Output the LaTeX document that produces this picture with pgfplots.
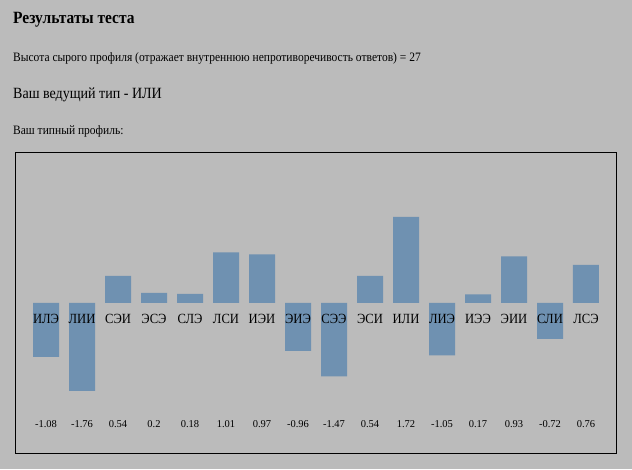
\documentclass[border=0pt]{standalone}
\usepackage{pgfplots}
\pgfplotsset{compat=1.18}
\usetikzlibrary{backgrounds}
\usepackage{fontspec}
\setmainfont{Liberation Serif}
\newfontfamily\cond[FakeStretch=0.9]{Liberation Serif}
\definecolor{bg}{HTML}{BBBBBB}
\definecolor{barc}{HTML}{6F91B1}
\begin{document}
\begin{tikzpicture}
\begin{axis}[
  name=ax,
  scale only axis, width=601pt, height=300pt,
  xmin=-0.842, xmax=15.853, ymin=-3, ymax=3,
  axis on top,
  axis line style={black, line width=1pt},
  ytick=\empty,
  xtick={0,...,15},
  xticklabels={-1.08,-1.76,0.54,0.2,0.18,1.01,0.97,-0.96,-1.47,0.54,1.72,-1.05,0.17,0.93,-0.72,0.76},
  xticklabel style={anchor=base, yshift=25.3pt, font=\fontsize{10.5}{12}\selectfont},
  major tick length=0pt,
  extra x ticks={0,...,15},
  extra x tick labels={ИЛЭ,ЛИИ,СЭИ,ЭСЭ,СЛЭ,ЛСИ,ИЭИ,ЭИЭ,СЭЭ,ЭСИ,ИЛИ,ЛИЭ,ИЭЭ,ЭИИ,СЛИ,ЛСЭ},
  extra x tick style={xticklabel style={anchor=base, yshift=104.4pt, font=\cond\fontsize{14}{16}\selectfont}},
  ybar, bar width=26pt, bar shift=0pt,
]
\addplot[fill=barc, draw=none] coordinates {
(0,-1.08) (1,-1.76) (2,0.54) (3,0.2) (4,0.18) (5,1.01) (6,0.97) (7,-0.96)
(8,-1.47) (9,0.54) (10,1.72) (11,-1.05) (12,0.17) (13,0.93) (14,-0.72) (15,0.76)};
\end{axis}
\begin{scope}[shift={(ax.south west)}, x=1pt, y=1pt, xshift=-15.7pt, yshift=-16pt]
\begin{scope}[on background layer]
\fill[bg] (0,0) rectangle (632,469);
\end{scope}
\node[anchor=base west,inner sep=0pt,font=\cond\fontsize{17.2}{20}\selectfont\bfseries] at (13,445.7) {Результаты теста};
\node[anchor=base west,inner sep=0pt,font=\cond\fontsize{12.8}{15}\selectfont] at (13,407.5) {Высота сырого профиля (отражает внутреннюю непротиворечивость ответов) = 27};
\node[anchor=base west,inner sep=0pt,font=\cond\fontsize{15.6}{18}\selectfont] at (13,370) {Ваш ведущий тип - ИЛИ};
\node[anchor=base west,inner sep=0pt,font=\cond\fontsize{12.8}{15}\selectfont] at (13,334) {Ваш типный профиль:};
\end{scope}
\end{tikzpicture}
\end{document}
